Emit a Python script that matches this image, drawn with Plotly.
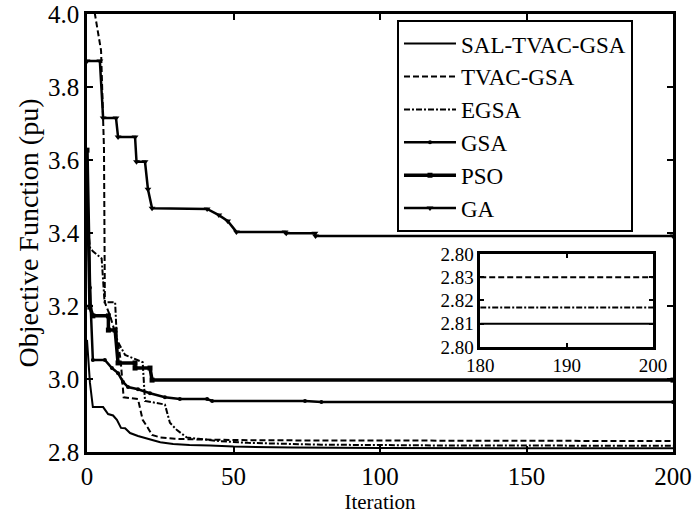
import plotly.graph_objects as go

# ---- data (breakpoints of each convergence curve) ----
sal_x = [0, 1, 2, 2.4, 5.5, 7.2, 8.9, 10.2, 11.6, 13, 14.7, 17.4, 21.5, 25, 29.4, 35, 42, 50, 70, 100, 200]
sal_y = [3.107, 2.99, 2.923, 2.923, 2.923, 2.904, 2.90, 2.888, 2.866, 2.865, 2.852, 2.844, 2.835, 2.827, 2.822, 2.819, 2.818, 2.815, 2.812, 2.811, 2.810]

tvac_x = [0, 1, 2.7, 4.8, 5.8, 6.1, 8, 10.6, 11.5, 12.5, 17.4, 19, 20.8, 22.2, 25, 30, 40, 60, 200]
tvac_y = [4.10, 4.05, 4.0, 3.90, 3.63, 3.21, 3.17, 3.10, 3.05, 2.95, 2.945, 2.888, 2.866, 2.847, 2.84, 2.836, 2.834, 2.832, 2.830]

egsa_x = [0, 1, 2, 5, 6, 9.6, 10.2, 13, 19, 19.8, 26.6, 28.3, 30.7, 34, 38, 45, 55, 80, 120, 200]
egsa_y = [3.45, 3.36, 3.35, 3.33, 3.21, 3.21, 3.107, 3.066, 3.046, 2.94, 2.93, 2.88, 2.86, 2.84, 2.836, 2.83, 2.825, 2.82, 2.818, 2.817]

gsa_x = [0, 1, 2, 6.1, 8.5, 10.6, 12.3, 14, 17.4, 21.5, 26.6, 31.7, 41, 42.7, 74.4, 80, 200]
gsa_y = [3.55, 3.25, 3.052, 3.052, 3.03, 3.016, 2.992, 2.978, 2.972, 2.961, 2.95, 2.945, 2.945, 2.940, 2.940, 2.937, 2.937]

pso_x = [0, 1, 2, 7.3, 7.3, 9.6, 10.6, 16.4, 16.4, 21.5, 22.2, 200]
pso_y = [3.627, 3.197, 3.173, 3.173, 3.134, 3.134, 3.044, 3.044, 3.03, 3.03, 2.997, 2.997]

ga_x = [0, 4.4, 5.5, 9.9, 10.6, 16.4, 16.9, 19.8, 20.8, 22.2, 41, 45, 48, 51, 67.6, 68, 77.8, 78, 200]
ga_y = [3.871, 3.871, 3.715, 3.715, 3.663, 3.663, 3.595, 3.595, 3.52, 3.468, 3.466, 3.449, 3.433, 3.403, 3.403, 3.399, 3.399, 3.392, 3.392]

# inset (zoom of last iterations)
inset_x = [180, 200]
inset_sal = [2.810, 2.810]
inset_egsa = [2.817, 2.817]
inset_tvac = [2.830, 2.830]

x_ticks = [0, 50, 100, 150, 200]
y_ticks = [2.8, 3.0, 3.2, 3.4, 3.6, 3.8, 4.0]
inset_xticks = [180, 190, 200]
inset_yticks = [2.80, 2.81, 2.82, 2.83, 2.84]
inset_yticktext = ["2.80", "2.81", "2.82", "2.83", "2.80"]

FONT = "Liberation Serif"

fig = go.Figure()
fig.add_trace(go.Scatter(x=sal_x, y=sal_y, name="SAL-TVAC-GSA", mode="lines",
                         line=dict(color="black", width=2)))
fig.add_trace(go.Scatter(x=tvac_x, y=tvac_y, name="TVAC-GSA", mode="lines",
                         line=dict(color="black", width=2, dash="6px,3px")))
fig.add_trace(go.Scatter(x=egsa_x, y=egsa_y, name="EGSA", mode="lines",
                         line=dict(color="black", width=2, dash="6px,2px,2px,2px")))
fig.add_trace(go.Scatter(x=gsa_x, y=gsa_y, name="GSA", mode="lines+markers",
                         line=dict(color="black", width=2.5),
                         marker=dict(symbol="circle", size=4, color="black")))
fig.add_trace(go.Scatter(x=pso_x, y=pso_y, name="PSO", mode="lines+markers",
                         line=dict(color="black", width=3.5),
                         marker=dict(symbol="square", size=5, color="black")))
fig.add_trace(go.Scatter(x=ga_x, y=ga_y, name="GA", mode="lines+markers",
                         line=dict(color="black", width=2.5),
                         marker=dict(symbol="triangle-down", size=6, color="black")))

# inset traces
fig.add_trace(go.Scatter(x=inset_x, y=inset_tvac, xaxis="x2", yaxis="y2", mode="lines",
                         line=dict(color="black", width=2, dash="6px,3px"), showlegend=False))
fig.add_trace(go.Scatter(x=inset_x, y=inset_egsa, xaxis="x2", yaxis="y2", mode="lines",
                         line=dict(color="black", width=2, dash="6px,2px,2px,2px"), showlegend=False))
fig.add_trace(go.Scatter(x=inset_x, y=inset_sal, xaxis="x2", yaxis="y2", mode="lines",
                         line=dict(color="black", width=2), showlegend=False))

axis_common = dict(showgrid=False, zeroline=False, showline=True, linecolor="black",
                   linewidth=2.5, mirror="ticks", ticks="inside", tickcolor="black",
                   tickwidth=1.5, automargin=False)

fig.update_layout(
    template="none",
    width=693, height=516,
    margin=dict(l=87, r=20, t=14, b=64),
    paper_bgcolor="white", plot_bgcolor="white",
    font=dict(family=FONT, color="black", size=22),
    xaxis=dict(range=[0, 200], tickvals=x_ticks, ticklen=6,
               title=dict(text="Iteration", font=dict(size=21), standoff=0),
               tickfont=dict(size=25), **axis_common),
    yaxis=dict(range=[2.8, 4.0], tickvals=y_ticks, tickformat=".1f", ticklen=6,
               title=dict(text="Objective Function (pu)", font=dict(size=28), standoff=2),
               tickfont=dict(size=25), **axis_common),
    xaxis2=dict(domain=[0.671, 0.966], anchor="y2", range=[180, 200], tickvals=inset_xticks,
                ticklen=4, tickfont=dict(size=19), **axis_common),
    yaxis2=dict(domain=[0.240, 0.452], anchor="x2", range=[2.80, 2.84], tickvals=inset_yticks,
                ticktext=inset_yticktext, ticklen=4, tickfont=dict(size=19), **axis_common),
    legend=dict(x=0.529, y=0.986, xanchor="left", yanchor="top",
                bordercolor="black", borderwidth=2, bgcolor="white",
                font=dict(size=23, family=FONT), tracegroupgap=0, itemwidth=52),
)

fig.write_html("out.html")
